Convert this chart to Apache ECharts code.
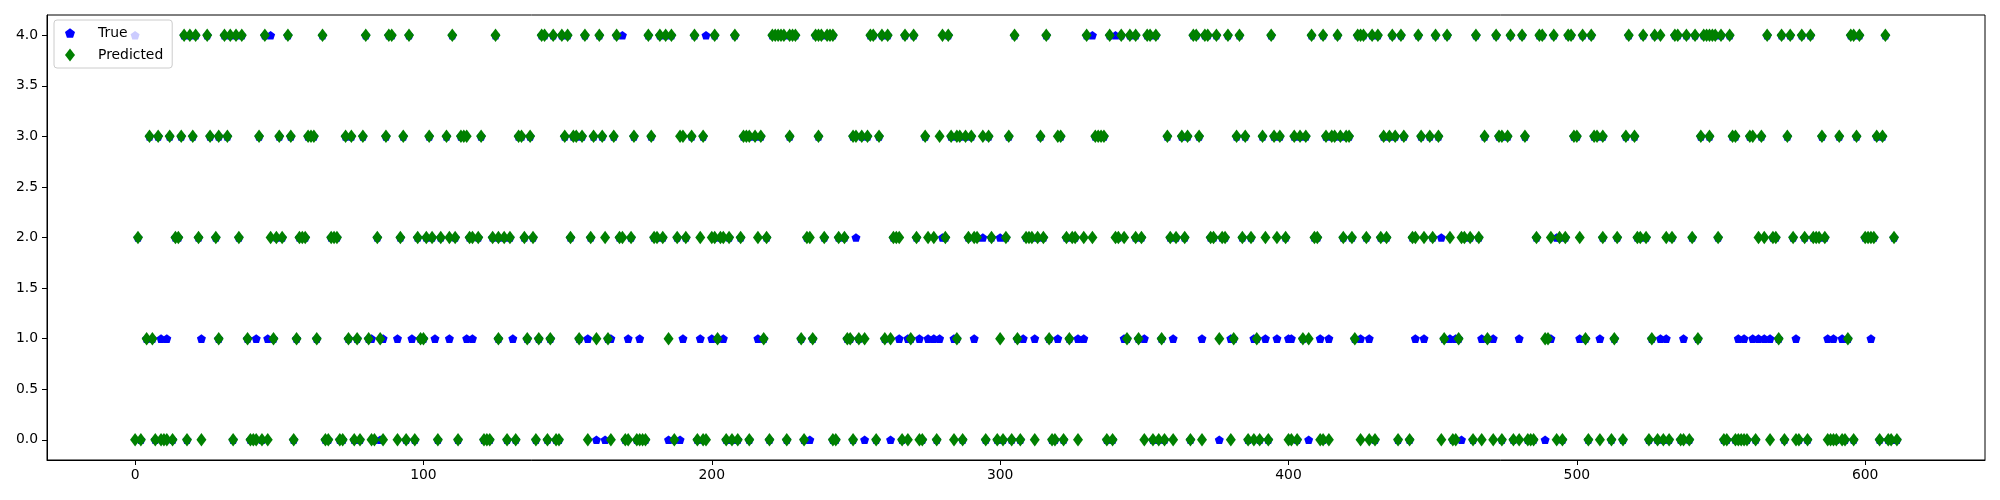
<!DOCTYPE html>
<html><head><meta charset="utf-8">
<script src="https://cdn.jsdelivr.net/npm/echarts@6/dist/echarts.min.js"></script>
<style>html,body{margin:0;padding:0;background:#fff}#c{width:2000px;height:500px}</style>
</head><body><div id="c"></div>
<script>
// Predicted class per sample index (indices grouped by predicted class)
const pred4 = [17,19,21,25,31,33,35,37,45, 53,65,80,88,89,95, 110,125,141,142,145,148,150,
  156,161,167,178,182,184,186,194,201, 208,221,222,223,224,225,227,228,229,236,237,238,240,241,242,
  255,256,259,261,267,270,280,282, 305,316,330,338,342,345,347,351,352,354,
  367,368,371,372,375,379,383,394, 408,412,417,424,425,426,429,431,436,439,445,451,455,
  465,472,477,481,487,488,492,497,498,502,505, 518,523,527,529,534,535,538,541,544,545,546,547,548,550,553,
  566,571,574,578,581,595,596,598,607];
const pred3 = [5,8,12,16,20,26,29,32,43, 50,54,60,61,62,73,75,79,87,93, 102,108,113,114,115,120,133,134,137,149,
  152,153,155,159,162,166,173,179,189,190,193,197, 211,212,213,215,217,227,237,249,250,
  252,254,258,274,279,283,285,286,288,290,294,296,303, 314,320,321,333,334,335,336,
  358,363,365,369,382,385,391,395,397,402,404,406, 413,415,416,418,420,421,433,435,437,440,446,449,452,
  468,473,474,476,482,499,500,506,507,509, 517,520,543,546,554,555,560, 561,564,573,585,591,597,604,606];
const pred2 = [1,14,15,22,28,36,47, 49,51,57,58,59,68,69,70,84,92,98,
  101,103,106,109,111,116,117,119,124,126,128,130,135,138,151, 158,163,168,169,172,180,181,183,188,191,196,200,
  201,203,204,206,210,216,219,233,234,239,244,246, 263,264,265,271,275,277,281,289,291,292,297,302,
  309,310,311,313,315,323,325,326,329,332,340,341,343,347,349, 359,361,364,373,374,377,378,384,387,392,396,399,
  409,410,419,422,427,432,434,443,444,447,450,456, 460,461,463,466,486,491,494,496,501,509,
  514,521,522,524,531,533,540,549, 563,565,568,569,575,579,582,583,584,586,600,601,602,603,610];
const pred1 = [4,6,29,39, 48,56,63,74,77,81,85,99, 100,126,136,140,144, 154,160,164,185,202,
  218,231,235,247,248,251,253, 260,262,269,285,300, 306,317,324,344,348,356, 376,381,389,405,407,
  423,454, 459,469,489,490,503, 513,526,542, 570,594];
const pred0 = [0,2,7,9,10,11,13,18,23,34,40,41,42,44, 46,55,66,67,71,72,76,78,82,83,86,91,94,97,
  105,112,121,122,123,129,132,139,143,146,147, 157,165,170,171,174,175,176,177,187,195,197,198,
  205,207,209,213,220,226,232,242,243,249, 257,266,268,272,273,278,284,287,295,299,301,
  304,307,312,318,319,322,327,337,339,350,353,355, 357,360,366,370,380,386,388,390,393,400,401,403,
  411,412,414,425,428,430,438,442,453,457, 458,464,467,471,474,478,480,483,484,485,493,495,504,508,
  512,516,525,528,530,532,536,537,539,551,552,555,556,557,558,559,
  562,567,572,576,577,580,587,588,589,590,592,593,596,605,608,609,611];

// Samples whose true class differs from the predicted one (index lists by true class)
const true4 = [0,47,169,198,332,340];
const true2 = [250,280,294,300,453,493];
const true1 = [9,11,23,42,46,82,86,91,96,104,109,115,117,131,157,165,171,175,190,196,200,204,216,
  265,268,272,275,277,279,284,291,308,312,320,327,329,343,350,360,370,380,388,392,396,400,401,
  411,414,425,428,444,447,456,458,467,471,480,491,501,508,529,531,537,556,558,561,563,565,567,
  576,587,589,592,602];
const true0 = [85,160,163,185,189,234,253,262,376,407,460,489];

const xTicks = [0,100,200,300,400,500,600];
const yTicks = [0,0.5,1,1.5,2,2.5,3,3.5,4];
const seriesNames = ['True','Predicted'];

const predLists = [[4,pred4],[3,pred3],[2,pred2],[1,pred1],[0,pred0]];
const diffLists = [[4,true4],[2,true2],[1,true1],[0,true0]];
const predData = [];
predLists.forEach(([lv, arr]) => arr.forEach(i => predData.push([i, lv])));
const diffIdx = new Set([].concat(true4, true2, true1, true0));
const trueData = predData.filter(p => !diffIdx.has(p[0])).map(p => [p[0], p[1]]);
diffLists.forEach(([lv, arr]) => arr.forEach(i => trueData.push([i, lv])));

const pentagon = 'path://M0,-1L0.951,-0.309L0.588,0.809L-0.588,0.809L-0.951,-0.309Z';
const FONT = 'DejaVu Sans';

const chart = echarts.init(document.getElementById('c'), null, {renderer: 'canvas'});
chart.setOption({
  animation: false,
  backgroundColor: '#fff',
  grid: {left: 47, right: 15, top: 15, bottom: 40, show: true, borderColor: '#000', borderWidth: 1, backgroundColor: 'transparent'},
  legend: {
    left: 54, top: 20, orient: 'vertical', selectedMode: false,
    backgroundColor: 'rgba(255,255,255,0.8)', borderColor: '#cccccc', borderWidth: 1, borderRadius: 3,
    padding: [6, 9, 6, 11], itemGap: 8, itemWidth: 10, itemHeight: 13,
    textStyle: {fontFamily: FONT, fontSize: 13.9, color: '#000', padding: [0,0,0,18]},
    data: [{name: seriesNames[0], icon: pentagon}, {name: seriesNames[1], icon: 'diamond'}]
  },
  xAxis: {
    type: 'value', min: -30.55, max: 641.55,
    splitLine: {show: false},
    axisLine: {show: true, onZero: false, lineStyle: {color: '#000', width: 1}},
    axisTick: {show: true, length: 5, inside: false, lineStyle: {color: '#000'}, customValues: xTicks},
    axisLabel: {fontFamily: FONT, fontSize: 13.9, color: '#000', margin: 8, customValues: xTicks,
      formatter: v => String(v)}
  },
  yAxis: {
    type: 'value', min: -0.2, max: 4.2,
    splitLine: {show: false},
    axisLine: {show: true, onZero: false, lineStyle: {color: '#000', width: 1}},
    axisTick: {show: true, length: 5, inside: false, lineStyle: {color: '#000'}, customValues: yTicks},
    axisLabel: {fontFamily: FONT, fontSize: 13.9, color: '#000', margin: 9, customValues: yTicks,
      formatter: v => v.toFixed(1)}
  },
  series: [
    {name: seriesNames[0], type: 'scatter', data: trueData, symbol: pentagon, symbolSize: [9, 8.6],
      itemStyle: {color: '#0000ff', opacity: 1}, emphasis: {disabled: true}},
    {name: seriesNames[1], type: 'scatter', data: predData, symbol: 'diamond', symbolSize: [10, 13.5],
      itemStyle: {color: '#008000', opacity: 1}, emphasis: {disabled: true}}
  ]
});
</script></body></html>
